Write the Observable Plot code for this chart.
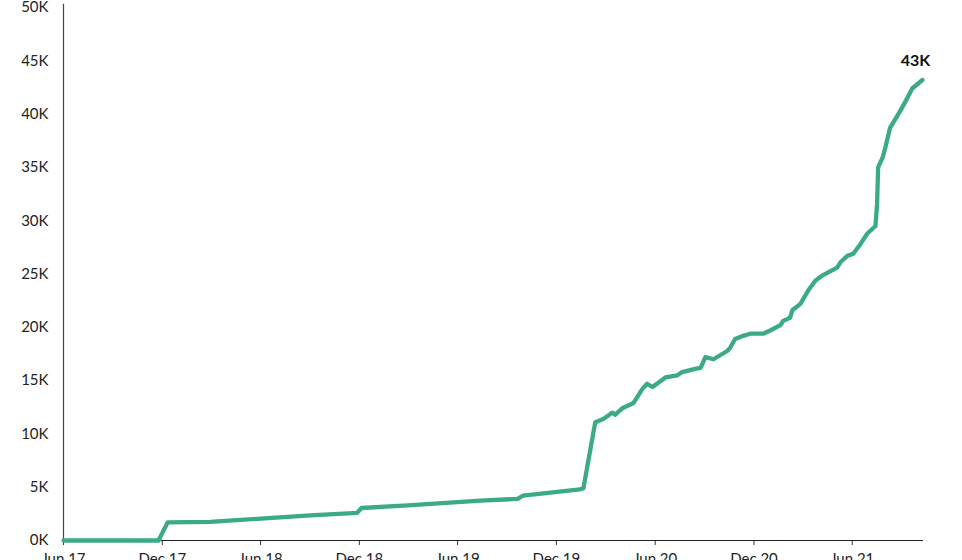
<!DOCTYPE html>
<html>
<head>
<meta charset="utf-8">
<script src="https://cdn.jsdelivr.net/npm/d3@7"></script>
<script src="https://cdn.jsdelivr.net/npm/@observablehq/plot@0.6"></script>
<style>
  html, body { margin: 0; padding: 0; background: #fff; overflow: hidden; }
  #chart svg { display: block; }
</style>
</head>
<body>
<div id="chart"></div>
<script>
const dates = [
  "2017-06-01","2017-11-24","2017-12-11","2018-02-28","2018-06-01","2018-09-01",
  "2018-11-27","2018-12-05","2019-03-01","2019-07-13","2019-09-20","2019-09-30",
  "2020-01-14","2020-01-20","2020-02-06","2020-02-11","2020-02-26","2020-03-14",
  "2020-03-19","2020-04-01","2020-04-22","2020-05-08","2020-05-17","2020-05-27",
  "2020-06-20","2020-07-12","2020-07-21","2020-08-14","2020-08-24","2020-09-02",
  "2020-09-17","2020-10-13","2020-10-18","2020-10-27","2020-11-11","2020-11-24",
  "2020-12-18","2020-12-31","2021-01-19","2021-01-24","2021-02-06","2021-02-10",
  "2021-02-25","2021-03-12","2021-03-25","2021-04-08","2021-05-04","2021-05-10",
  "2021-05-23","2021-06-03","2021-06-16","2021-06-29","2021-07-14","2021-07-17",
  "2021-07-19","2021-07-27","2021-08-01","2021-08-10","2021-08-29","2021-09-11",
  "2021-09-20","2021-10-09"
];
const values = [
  0, 0, 1700, 1750, 2050, 2350,
  2600, 3050, 3300, 3750, 3900, 4200,
  4800, 4900, 9700, 11100, 11400, 12000,
  11800, 12400, 12900, 14200, 14700, 14400,
  15300, 15500, 15800, 16100, 16200, 17200,
  17000, 17800, 18100, 18900, 19200, 19400,
  19400, 19700, 20200, 20600, 20900, 21600,
  22200, 23500, 24400, 24900, 25600, 26100,
  26700, 26900, 27800, 28800, 29500, 31600,
  35000, 35900, 36800, 38700, 40300, 41500,
  42400, 43200
];
const yTicks = [0, 5000, 10000, 15000, 20000, 25000, 30000, 35000, 40000, 45000, 50000];
const xTicks = ["2017-06-01","2017-12-01","2018-06-01","2018-12-01","2019-06-01","2019-12-01","2020-06-01","2020-12-01","2021-06-01"];
const xDomain = ["2017-06-01", "2021-10-11"];
const endLabel = "43K";

const data = dates.map((d, i) => ({date: new Date(d), value: values[i]}));
const last = data[data.length - 1];
const x0 = new Date(xDomain[0]);

const chart = Plot.plot({
  width: 962,
  height: 585,
  marginLeft: 63,
  marginRight: 39,
  marginTop: 7,
  marginBottom: 45,
  style: {fontFamily: "Lato, 'Open Sans', sans-serif", fontSize: "15px", color: "#222", background: "#fff"},
  x: {type: "utc", domain: xDomain.map(d => new Date(d))},
  y: {domain: [0, 50000]},
  marks: [
    Plot.axisY({ticks: yTicks, tickSize: 0, tickPadding: 15, tickFormat: d => d / 1000 + "K", label: null, fontSize: 15}),
    Plot.axisX({ticks: xTicks.map(d => new Date(d)), tickSize: 5, tickPadding: 8, tickFormat: d3.utcFormat("%b %y"), label: null, fontSize: 15, stroke: "#333"}),
    Plot.ruleX([x0], {y1: 0, y2: 50300, stroke: "#444", strokeWidth: 1.2}),
    Plot.ruleY([0], {stroke: "#222", strokeWidth: 1.2}),
    Plot.line(data, {x: "date", y: "value", stroke: "#3aab84", strokeWidth: 4.3, strokeLinejoin: "round", strokeLinecap: "round"}),
    Plot.text([last], {x: "date", y: "value", text: () => endLabel, dx: -7, dy: -19, fontWeight: "bold", fontSize: 16, fill: "#111"})
  ]
});
document.getElementById("chart").append(chart);
</script>
</body>
</html>
